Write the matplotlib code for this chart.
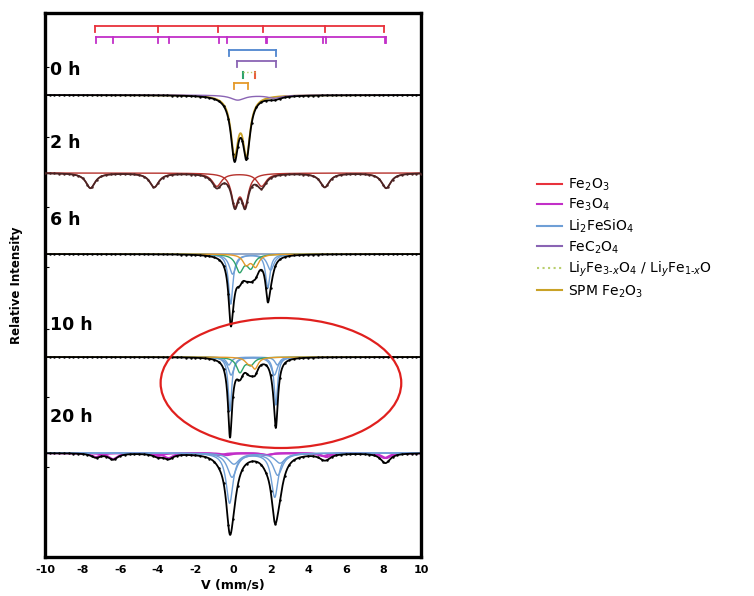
import numpy as np
import matplotlib.pyplot as plt
from matplotlib.patches import Ellipse
from matplotlib.lines import Line2D

plt.rcParams["axes.unicode_minus"] = False

# velocity axis (mm/s)
V = np.linspace(-10, 10, 1601)

# baselines of the stacked spectra (arbitrary units, 1 unit ~ 1 px)
TIMES = ["0 h", "2 h", "6 h", "10 h", "20 h"]
BASELINES = [462, 384, 303, 200, 104]
LABEL_Y = [487, 414, 337, 232, 140]

# --- 0 h : SPM Fe2O3 doublet + FeC2O4
SPM0_POS = [0.08, 0.72]
SPM0_DEPTH = [56, 56]
SPM0_W = [0.23, 0.23]
FEC_POS = [0.25, 2.2]
FEC_DEPTH = [5, 3]
FEC_W = [0.45, 0.45]

# --- 2 h : Fe2O3 sextet + SPM doublet
HEM_POS = [-7.58, -4.19, -0.86, 1.52, 4.88, 8.15]
HEM_DEPTH = [15, 14, 13, 13, 14, 15]
HEM_W = [0.3, 0.3, 0.3, 0.3, 0.3, 0.3]
SPM2_POS = [0.1, 0.64]
SPM2_DEPTH = [30, 30]
SPM2_W = [0.22, 0.22]

# --- 6 h : Li2FeSiO4 doublets + LiyFe oxides
LFS6_POS = [[-0.12, 1.85], [-0.02, 2.0]]
LFS6_DEPTH = [[50, 34], [20, 16]]
LFS6_W = [[0.14, 0.14], [0.22, 0.22]]
GRN6_POS = [0.35, 0.95]
GRN6_DEPTH = [17, 13]
GRN6_W = [0.24, 0.24]
ORG6_POS = [0.7, 1.2]
ORG6_DEPTH = [10, 12]
ORG6_W = [0.22, 0.22]

# --- 10 h
LFS10_POS = [[-0.16, 2.28], [-0.1, 2.2], [-0.22, 2.36]]
LFS10_DEPTH = [[54, 48], [18, 18], [8, 8]]
LFS10_W = [[0.11, 0.11], [0.2, 0.2], [0.16, 0.16]]
GRN10_POS = [0.37, 0.95]
GRN10_DEPTH = [15, 7]
GRN10_W = [0.22, 0.22]
ORG10_POS = [0.8, 1.17]
ORG10_DEPTH = [5, 11]
ORG10_W = [0.2, 0.2]

# --- 20 h : Li2FeSiO4 + Fe3O4 (two sextets)
LFS20_POS = [[-0.18, 2.22], [-0.05, 2.38], [0.05, 2.5]]
LFS20_DEPTH = [[50, 44], [24, 22], [11, 10]]
LFS20_W = [[0.22, 0.22], [0.3, 0.3], [0.35, 0.35]]
MAG_A_POS = [-7.3, -4.0, -0.74, 1.75, 4.79, 8.06]
MAG_A_DEPTH = [4, 3, 2, 2, 3, 5]
MAG_B_POS = [-6.38, -3.43, -0.33, 1.82, 4.97, 8.15]
MAG_B_DEPTH = [6, 5, 2, 2, 4, 5]
MAG_W = [0.3, 0.3, 0.3, 0.3, 0.3, 0.3]

# stick diagrams at the top (positions in mm/s)
STICK_HEM = [-7.36, -3.99, -0.78, 1.61, 4.92, 8.03]
STICK_MAG = [-7.28, -6.38, -3.99, -3.43, -0.74, -0.33, 1.75, 1.82, 4.79, 4.97, 8.06, 8.15]
STICK_LFS = [-0.2, 2.28]
STICK_FEC = [0.2, 2.28]
STICK_SPM = [0.05, 0.8]

LEGEND_LABELS = [r"Fe$_2$O$_3$", r"Fe$_3$O$_4$", r"Li$_2$FeSiO$_4$", r"FeC$_2$O$_4$",
                 r"Li$_y$Fe$_{3\text{-}x}$O$_4$ / Li$_y$Fe$_{1\text{-}x}$O", r"SPM Fe$_2$O$_3$"]

RED = "#e8323c"
DARKRED = "#b5312c"
MAGENTA = "#c22fc8"
BLUE = "#6f9fd6"
PURPLE = "#8a64b4"
GREEN = "#2fa36b"
LGREEN = "#b9cf6e"
ORANGE = "#e59a2a"
GOLD = "#c9a227"


def lor(pos, depth, w):
    """sum of lorentzian lines (absorption, returned positive)"""
    out = np.zeros_like(V)
    for p, d, ww in zip(pos, depth, w):
        out += d / (1 + ((V - p) / ww) ** 2)
    return out


def plot_spectrum(ax, base, comps, data_color="black"):
    total = np.zeros_like(V)
    for absorb, color, lw in comps:
        ax.plot(V, base - absorb, color=color, lw=lw, zorder=2)
        total += absorb
    ax.plot(V, base - total, color=data_color, lw=1.3, zorder=3)
    ax.plot(V[::20], (base - total)[::20], ".", color=data_color, ms=1.5, zorder=3)


def stick(ax, pos, y, color, tick=6):
    ax.plot([pos[0], pos[-1]], [y, y], color=color, lw=1.3)
    for p in pos:
        ax.plot([p, p], [y, y - tick], color=color, lw=1.3)


fig = plt.figure(figsize=(7.54, 5.96), dpi=100)
ax = fig.add_axes([45 / 754, 39 / 596, 376 / 754, 544 / 596])

# 0 h
b = BASELINES[0]
plot_spectrum(ax, b, [
    (lor(SPM0_POS, SPM0_DEPTH, SPM0_W), GOLD, 1.3),
    (lor(FEC_POS, FEC_DEPTH, FEC_W), PURPLE, 1.0),
])

# 2 h
b = BASELINES[1]
plot_spectrum(ax, b, [
    (lor(HEM_POS, HEM_DEPTH, HEM_W), DARKRED, 1.0),
    (lor(SPM2_POS, SPM2_DEPTH, SPM2_W), DARKRED, 1.0),
], data_color="#4a2424")

# 6 h
b = BASELINES[2]
comps = [(lor(p, d, w), BLUE, 1.0) for p, d, w in zip(LFS6_POS, LFS6_DEPTH, LFS6_W)]
comps += [(lor(GRN6_POS, GRN6_DEPTH, GRN6_W), GREEN, 1.0),
          (lor(ORG6_POS, ORG6_DEPTH, ORG6_W), ORANGE, 1.0)]
plot_spectrum(ax, b, comps)
ax.plot(V, np.full_like(V, b), color="#6a86b0", lw=1.0, zorder=1)

# 10 h
b = BASELINES[3]
comps = [(lor(p, d, w), BLUE, 1.0) for p, d, w in zip(LFS10_POS, LFS10_DEPTH, LFS10_W)]
comps += [(lor(GRN10_POS, GRN10_DEPTH, GRN10_W), GREEN, 1.0),
          (lor(ORG10_POS, ORG10_DEPTH, ORG10_W), ORANGE, 1.0)]
plot_spectrum(ax, b, comps)

# 20 h
b = BASELINES[4]
comps = [(lor(MAG_A_POS, MAG_A_DEPTH, MAG_W), MAGENTA, 1.5),
         (lor(MAG_B_POS, MAG_B_DEPTH, MAG_W), MAGENTA, 1.5)]
comps += [(lor(p, d, w), BLUE, 1.0) for p, d, w in zip(LFS20_POS, LFS20_DEPTH, LFS20_W)]
plot_spectrum(ax, b, comps)

# stick diagrams
stick(ax, STICK_HEM, 531, RED)
stick(ax, STICK_MAG, 520, MAGENTA)
stick(ax, STICK_LFS, 507, "#4f86cf")
stick(ax, STICK_FEC, 496, PURPLE)
ax.plot([0.53, 0.53], [485, 479], color=GREEN, lw=1.5)
ax.plot([1.17, 1.17], [485, 479], color="#e8603c", lw=1.5)
ax.plot([0.53, 1.17], [485, 485], color=LGREEN, lw=1.0, ls=":")
stick(ax, STICK_SPM, 474, ORANGE)

# red ellipse around 10 h doublet
ax.add_patch(Ellipse((2.55, 174), 12.8, 130, fill=False, color="#e0201e", lw=1.6, zorder=4))

for t, y in zip(TIMES, LABEL_Y):
    ax.text(-9.75, y, t, fontsize=12.5, fontweight="bold", va="center", ha="left")

ax.set_xlim(-10, 10)
ax.set_ylim(0, 544)
ax.set_xticks(range(-10, 11, 2))
ax.set_yticks([90, 160, 228, 290, 350, 420, 490])
ax.tick_params(axis="y", labelleft=False, direction="in", length=3)
ax.tick_params(axis="x", direction="in", length=0, labelsize=8, pad=6)
for lbl in ax.get_xticklabels():
    lbl.set_fontweight("bold")
for sp in ax.spines.values():
    sp.set_linewidth(2.4)
ax.set_xlabel("V (mm/s)", fontsize=9, fontweight="bold", labelpad=2)
ax.set_ylabel("Relative Intensity", fontsize=8.5, fontweight="bold", labelpad=16)

handles = [Line2D([], [], color=c, lw=1.5, ls=ls) for c, ls in
           [(RED, "-"), (MAGENTA, "-"), (BLUE, "-"), (PURPLE, "-"), (LGREEN, ":"), (GOLD, "-")]]
fig.legend(handles, LEGEND_LABELS, loc="upper left", bbox_to_anchor=(524 / 754, 1 - 164 / 596),
           frameon=False, fontsize=10, handlelength=1.8, labelspacing=0.3, handletextpad=0.5)

fig.savefig("out.png", dpi=100)
